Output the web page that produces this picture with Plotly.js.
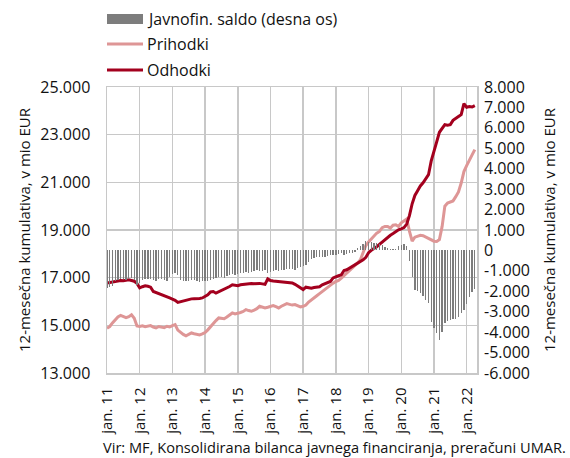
<!DOCTYPE html>
<html>
<head>
<meta charset="utf-8">
<script src="https://cdn.plot.ly/plotly-3.0.1.min.js"></script>
<style>
html,body{margin:0;padding:0;background:#fff;}
#chart{width:570px;height:458px;}
</style>
</head>
<body>
<div id="chart"></div>
<script>
// Months since jan. 2011 (0 = jan. 2011 ... 135 = apr. 2022)
const nMonths = 136;

// Prihodki (12-month cumulative revenues, mio EUR)
const prihodki = [
  14880,14950,15100,15250,15350,15420,15380,15320,15360,15440,15300,14970,
  14950,14980,14940,14960,14990,14930,14890,14950,14920,14900,14960,14930,
  14990,15030,14800,14700,14620,14560,14620,14680,14650,14610,14600,14640,
  14700,14810,14950,15100,15200,15310,15300,15280,15350,15450,15520,15480,
  15500,15540,15580,15660,15620,15590,15640,15700,15800,15770,15730,15760,
  15800,15830,15780,15730,15800,15850,15910,15880,15850,15870,15820,15770,
  15800,15850,15980,16080,16150,16240,16330,16420,16500,16600,16700,16770,
  16840,16880,16980,17080,17200,17280,17420,17500,17620,17750,18100,18350,
  18500,18620,18750,18870,18940,19100,19150,19150,19080,19200,19220,19150,
  19300,19380,19460,18950,18530,18700,18750,18780,18760,18700,18660,18590,
  18530,18520,18600,19150,20000,20130,20170,20220,20400,20600,20970,21450,
  21700,21950,22150,22370
];

// Odhodki (12-month cumulative expenditures, mio EUR)
const odhodki = [
  16780,16800,16830,16850,16870,16880,16870,16900,16910,16880,16850,16760,
  16570,16620,16660,16640,16600,16420,16380,16330,16280,16250,16200,16150,
  16100,16050,15960,15990,16040,16080,16090,16110,16120,16110,16130,16150,
  16200,16280,16400,16420,16350,16400,16470,16500,16550,16630,16700,16680,
  16660,16700,16720,16750,16740,16760,16750,16770,16760,16740,16720,16950,
  16880,16860,16850,16830,16820,16800,16810,16800,16780,16720,16650,16560,
  16500,16600,16580,16560,16590,16600,16620,16700,16740,16780,16840,16990,
  17050,17080,17120,17300,17330,17400,17480,17540,17600,17680,17750,17850,
  18050,18150,18220,18300,18400,18500,18620,18700,18780,18850,18950,19010,
  19050,19100,19250,19600,20100,20450,20650,20850,20980,21150,21320,21900,
  22350,22700,23100,23280,23420,23400,23420,23600,23700,23760,23840,24300,
  24150,24180,24160,24220
];

// Javnofin. saldo (right axis, mio EUR)
const saldo = [
  -1850,-1800,-1760,-1500,-1430,-1380,-1400,-1450,-1420,-1350,-1450,-1680,
  -1600,-1450,-1420,-1400,-1380,-1450,-1480,-1400,-1420,-1450,-1500,-1300,
  -1150,-1100,-1200,-1450,-1480,-1520,-1500,-1450,-1470,-1500,-1550,-1520,
  -1520,-1480,-1450,-1400,-1350,-1300,-1280,-1350,-1250,-1200,-1150,-1180,
  -1150,-1120,-1100,-1080,-1100,-1050,-1000,-980,-1020,-1000,-980,-1120,
  -1040,-1020,-980,-1000,-960,-940,-920,-900,-920,-950,-880,-820,
  -780,-700,-560,-420,-350,-320,-300,-320,-310,-280,-230,-240,
  -200,-180,-150,-200,-160,-130,-110,-80,100,220,330,460,
  400,420,380,350,300,250,150,100,50,80,60,200,
  250,300,220,-540,-1280,-1930,-2010,-2090,-2250,-2420,-2590,-3480,
  -3820,-4060,-4390,-3980,-3570,-3460,-3410,-3360,-3360,-3240,-3080,-2910,
  -2600,-2300,-2050,-1880
];

const xTickVals = [0,12,24,36,48,60,72,84,96,108,120,132];
const xTickText = ['jan. 11','jan. 12','jan. 13','jan. 14','jan. 15','jan. 16','jan. 17','jan. 18','jan. 19','jan. 20','jan. 21','jan. 22'];
const yLeftVals = [13000,15000,17000,19000,21000,23000,25000];
const yLeftText = ['13.000','15.000','17.000','19.000','21.000','23.000','25.000'];
const yRightVals = [-6000,-5000,-4000,-3000,-2000,-1000,0,1000,2000,3000,4000,5000,6000,7000,8000];
const yRightText = ['-6.000','-5.000','-4.000','-3.000','-2.000','-1.000','0','1.000','2.000','3.000','4.000','5.000','6.000','7.000','8.000'];

const legendNames = ['Javnofin. saldo (desna os)','Prihodki','Odhodki'];
const sourceText = 'Vir: MF, Konsolidirana bilanca javnega financiranja, preračuni UMAR.';
const leftTitle = '12-mesečna kumulativa, v mio EUR';
const rightTitle = '12-mesečna kumulativa, v mio EUR';

const months = [];
for (let i = 0; i < nMonths; i++) months.push(i);

const cBar = '#7d7d7d';
const cPri = '#de9696';
const cOdh = '#a3001e';
const cGrid = '#c8c8c8';
const FONT = 'Open Sans, sans-serif';

const traces = [
  {type:'bar', x: months, y: saldo, yaxis:'y2', name: legendNames[0],
   marker:{color:cBar, line:{width:0}}, width:0.48, showlegend:false, hoverinfo:'skip'},
  {type:'scatter', mode:'lines', x: months, y: prihodki, name: legendNames[1],
   line:{color:cPri, width:3}, showlegend:false},
  {type:'scatter', mode:'lines', x: months, y: odhodki, name: legendNames[2],
   line:{color:cOdh, width:3}, showlegend:false}
];

// plot area in pixels: left 107, right 477, top 87, bottom 373
const L = 107, R = 477, T = 87, B = 373;
const px = v => (v - L) / (R - L);
const py = v => (B - v) / (B - T);

const layout = {
  width:570, height:458,
  margin:{l:L, r:570-R, t:T, b:458-B, pad:0},
  paper_bgcolor:'#fff', plot_bgcolor:'#fff',
  font:{family:FONT, size:16, color:'#111'},
  showlegend:false,
  bargap:0,
  xaxis:{
    range:[0,135.8], tickmode:'array', tickvals:xTickVals, ticktext:xTickText,
    tickangle:-90, showgrid:true, gridcolor:cGrid, gridwidth:1.5,
    showline:true, linecolor:cGrid, linewidth:1.5, mirror:true,
    zeroline:false, ticks:'', ticklabelstandoff:7, tickfont:{size:15, family:FONT, color:'#111'}
  },
  yaxis:{
    range:[13000,25000], tickmode:'array', tickvals:yLeftVals, ticktext:yLeftText,
    showgrid:true, gridcolor:cGrid, gridwidth:1.5, zeroline:false,
    showline:true, linecolor:cGrid, linewidth:1.5, mirror:true,
    ticks:'', ticklabelstandoff:12, tickfont:{size:16, family:FONT, color:'#111'},
    title:{text:leftTitle, font:{size:15, family:FONT, color:'#111'}, standoff:6}
  },
  yaxis2:{
    range:[-6000,8000], overlaying:'y', side:'right', tickmode:'array',
    tickvals:yRightVals, ticktext:yRightText, showgrid:false, zeroline:false,
    ticks:'', ticklabelstandoff:6, tickfont:{size:16, family:FONT, color:'#111'},
    title:{text:rightTitle, font:{size:15, family:FONT, color:'#111'}, standoff:15}
  },
  shapes:[
    {type:'rect', xref:'paper', yref:'paper', x0:px(107), x1:px(143), y0:py(24), y1:py(14),
     fillcolor:cBar, line:{width:0}},
    {type:'line', xref:'paper', yref:'paper', x0:px(107), x1:px(143), y0:py(44), y1:py(44),
     line:{color:cPri, width:3}},
    {type:'line', xref:'paper', yref:'paper', x0:px(107), x1:px(143), y0:py(70), y1:py(70),
     line:{color:cOdh, width:3}}
  ],
  annotations:[
    {xref:'paper', yref:'paper', x:px(145), y:py(19), xanchor:'left', yanchor:'middle',
     text:legendNames[0], showarrow:false, font:{size:16, family:FONT, color:'#111'}},
    {xref:'paper', yref:'paper', x:px(145), y:py(44), xanchor:'left', yanchor:'middle',
     text:legendNames[1], showarrow:false, font:{size:16, family:FONT, color:'#111'}},
    {xref:'paper', yref:'paper', x:px(145), y:py(70), xanchor:'left', yanchor:'middle',
     text:legendNames[2], showarrow:false, font:{size:16, family:FONT, color:'#111'}},
    {xref:'paper', yref:'paper', x:px(568), y:py(447), xanchor:'right', yanchor:'middle',
     text:sourceText, showarrow:false, font:{size:14.6, family:FONT, color:'#111'}}
  ]
};

Plotly.newPlot('chart', traces, layout, {staticPlot:true, displayModeBar:false});
</script>
</body>
</html>
